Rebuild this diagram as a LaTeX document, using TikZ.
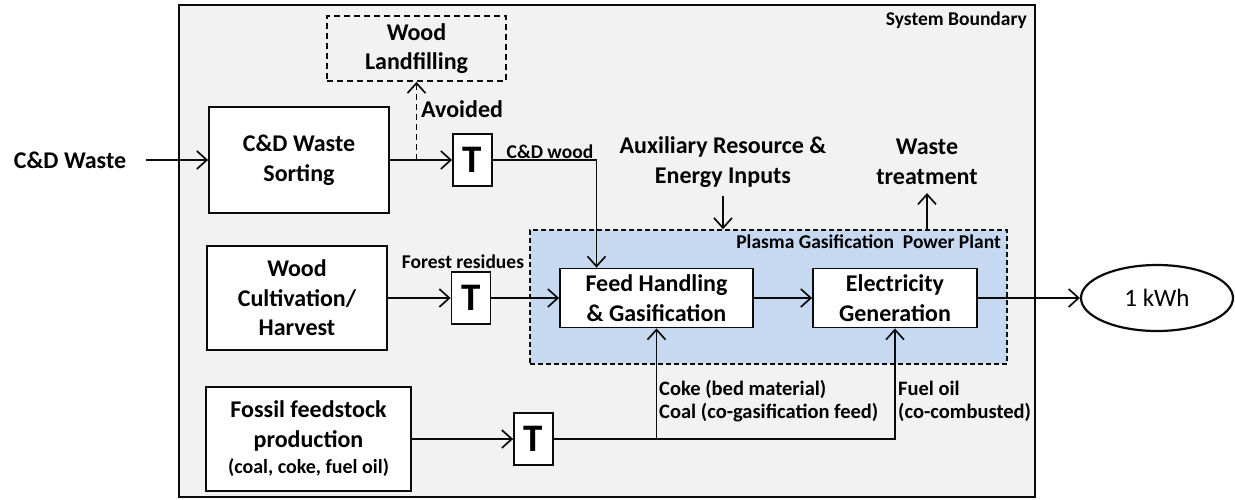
\documentclass[tikz,border=0pt]{standalone}
\usepackage{fontspec}
\setmainfont{Carlito}
\usepackage{tikz}
\usetikzlibrary{arrows.meta,positioning,shapes.geometric}
\definecolor{fondo}{HTML}{F2F2F2}
\definecolor{azulplanta}{HTML}{C6D9F1}
\definecolor{tinta}{HTML}{0B0B0B}
\tikzset{
  frontera/.style={draw=tinta,fill=fondo,line width=1.9pt,inner sep=0pt},
  zonaplanta/.style={draw=tinta,fill=azulplanta,line width=1.6pt,dash pattern=on 5pt off 3pt,inner sep=0pt},
  caja/.style={draw=tinta,fill=white,line width=1.8pt,inner sep=0pt,align=center,font=\bfseries\fontsize{24}{29.5}\selectfont},
  cajaevitada/.style={caja,fill=none,dash pattern=on 6pt off 4pt},
  cajat/.style={draw=tinta,fill=white,line width=1.8pt,inner sep=0pt,minimum width=39,minimum height=52,font=\bfseries\fontsize{39}{39}\selectfont},
  flecha/.style={draw=tinta,line width=1.7pt,-{Straight Barb[length=10pt,width=18pt,line width=1.7pt]}},
  rotulo/.style={inner sep=0pt,align=center,font=\bfseries\fontsize{24}{30}\selectfont},
  rotulochico/.style={inner sep=0pt,align=left,font=\bfseries\fontsize{19.5}{23}\selectfont},
  rotuloflujo/.style={inner sep=0pt,align=left,font=\bfseries\fontsize{20.5}{23}\selectfont},
}

\begin{document}
\begin{tikzpicture}[x=1pt,y=-1pt]
\useasboundingbox (0,0) rectangle (1235,499);
% fondo y planta
\node[frontera,minimum width=856,minimum height=492] (limite) at (607,251) {};
\node[rotulochico,anchor=east] (limrot) at (1027,20) {System Boundary};
\node[zonaplanta,minimum width=477,minimum height=134] (planta) at (768.5,297) {};
\node[rotulochico,anchor=east] (plantarot) at (1001,242) {Plasma Gasification\ \ Power Plant};
% cajas
\node[rotulo] (cdw) at (70,160) {C\&D Waste};
\node[caja,minimum width=180,minimum height=106] (sorting) at (299,160) {C\&D Waste\\Sorting};
\node[cajaevitada,minimum width=179,minimum height=65] (landfill) at (416.5,48.5) {Wood\\Landfilling};
\node[cajat] (t1) at (472.5,160) {T};
\node[caja,minimum width=180,minimum height=104] (cultivo) at (297,298) {Wood\\Cultivation/\\Harvest};
\node[cajat] (t2) at (471,298) {T};
\node[caja,minimum width=205,minimum height=104] (fosil) at (308.5,439) {Fossil feedstock\\production\\[-3pt]{\fontsize{20}{23}\selectfont(coal, coke, fuel oil)}};
\node[cajat] (t3) at (533.5,439) {T};
\node[caja,minimum width=193,minimum height=59] (alimento) at (656.5,298) {Feed Handling\\\& Gasification};
\node[caja,minimum width=164,minimum height=59] (electro) at (895,298) {Electricity\\Generation};
\node[ellipse,draw=tinta,fill=white,line width=2.2pt,inner sep=0pt,minimum width=152,minimum height=66,font=\fontsize{25}{29}\selectfont] (kwh) at (1157,298) {1 kWh};
% rotulos
\node[rotulo] (aux) at (723,162) {Auxiliary Resource \&\\Energy Inputs};
\node[rotulo] (residuo) at (927,162) {Waste\\treatment};
\node[rotulo,anchor=west] (evitado) at (421,109) {Avoided};
\node[rotulochico] (cdmadera) at (550,152) {C\&D wood};
\node[rotulochico] (forestal) at (463,262) {Forest residues};
\node[rotuloflujo,anchor=west] (coque) at (659,401.5) {Coke (bed material)\\Coal (co-gasification feed)};
\node[rotuloflujo,anchor=west] (fueloil) at (898,401.5) {Fuel oil\\(co-combusted)};
% flujos
\coordinate (desvio) at (sorting.east -| landfill.south);
\draw[flecha,shorten <=20pt] (cdw.east) -- (sorting.west);
\draw[flecha] (sorting.east) -- (t1.west);
\draw[flecha,dash pattern=on 6pt off 4pt] (desvio) -- (landfill.south);
\draw[flecha] (t1.east) -| ([xshift=-60pt]alimento.north);
\draw[flecha] (cultivo.east) -- (t2.west);
\draw[flecha] (t2.east) -- (alimento.west);
\draw[flecha] (alimento.east) -- (electro.west);
\draw[flecha] (electro.east) -- (kwh.west);
\draw[flecha] (fosil.east) -- (t3.west);
\draw[flecha] (t3.east) -| (alimento.south);
\draw[flecha] (t3.east) -| (electro.south);
\draw[flecha,shorten <=8pt] (aux.south) -- (aux.south |- planta.north);
\draw[flecha,shorten >=8pt] (residuo.south |- planta.north) -- (residuo.south);
\end{tikzpicture}
\end{document}
